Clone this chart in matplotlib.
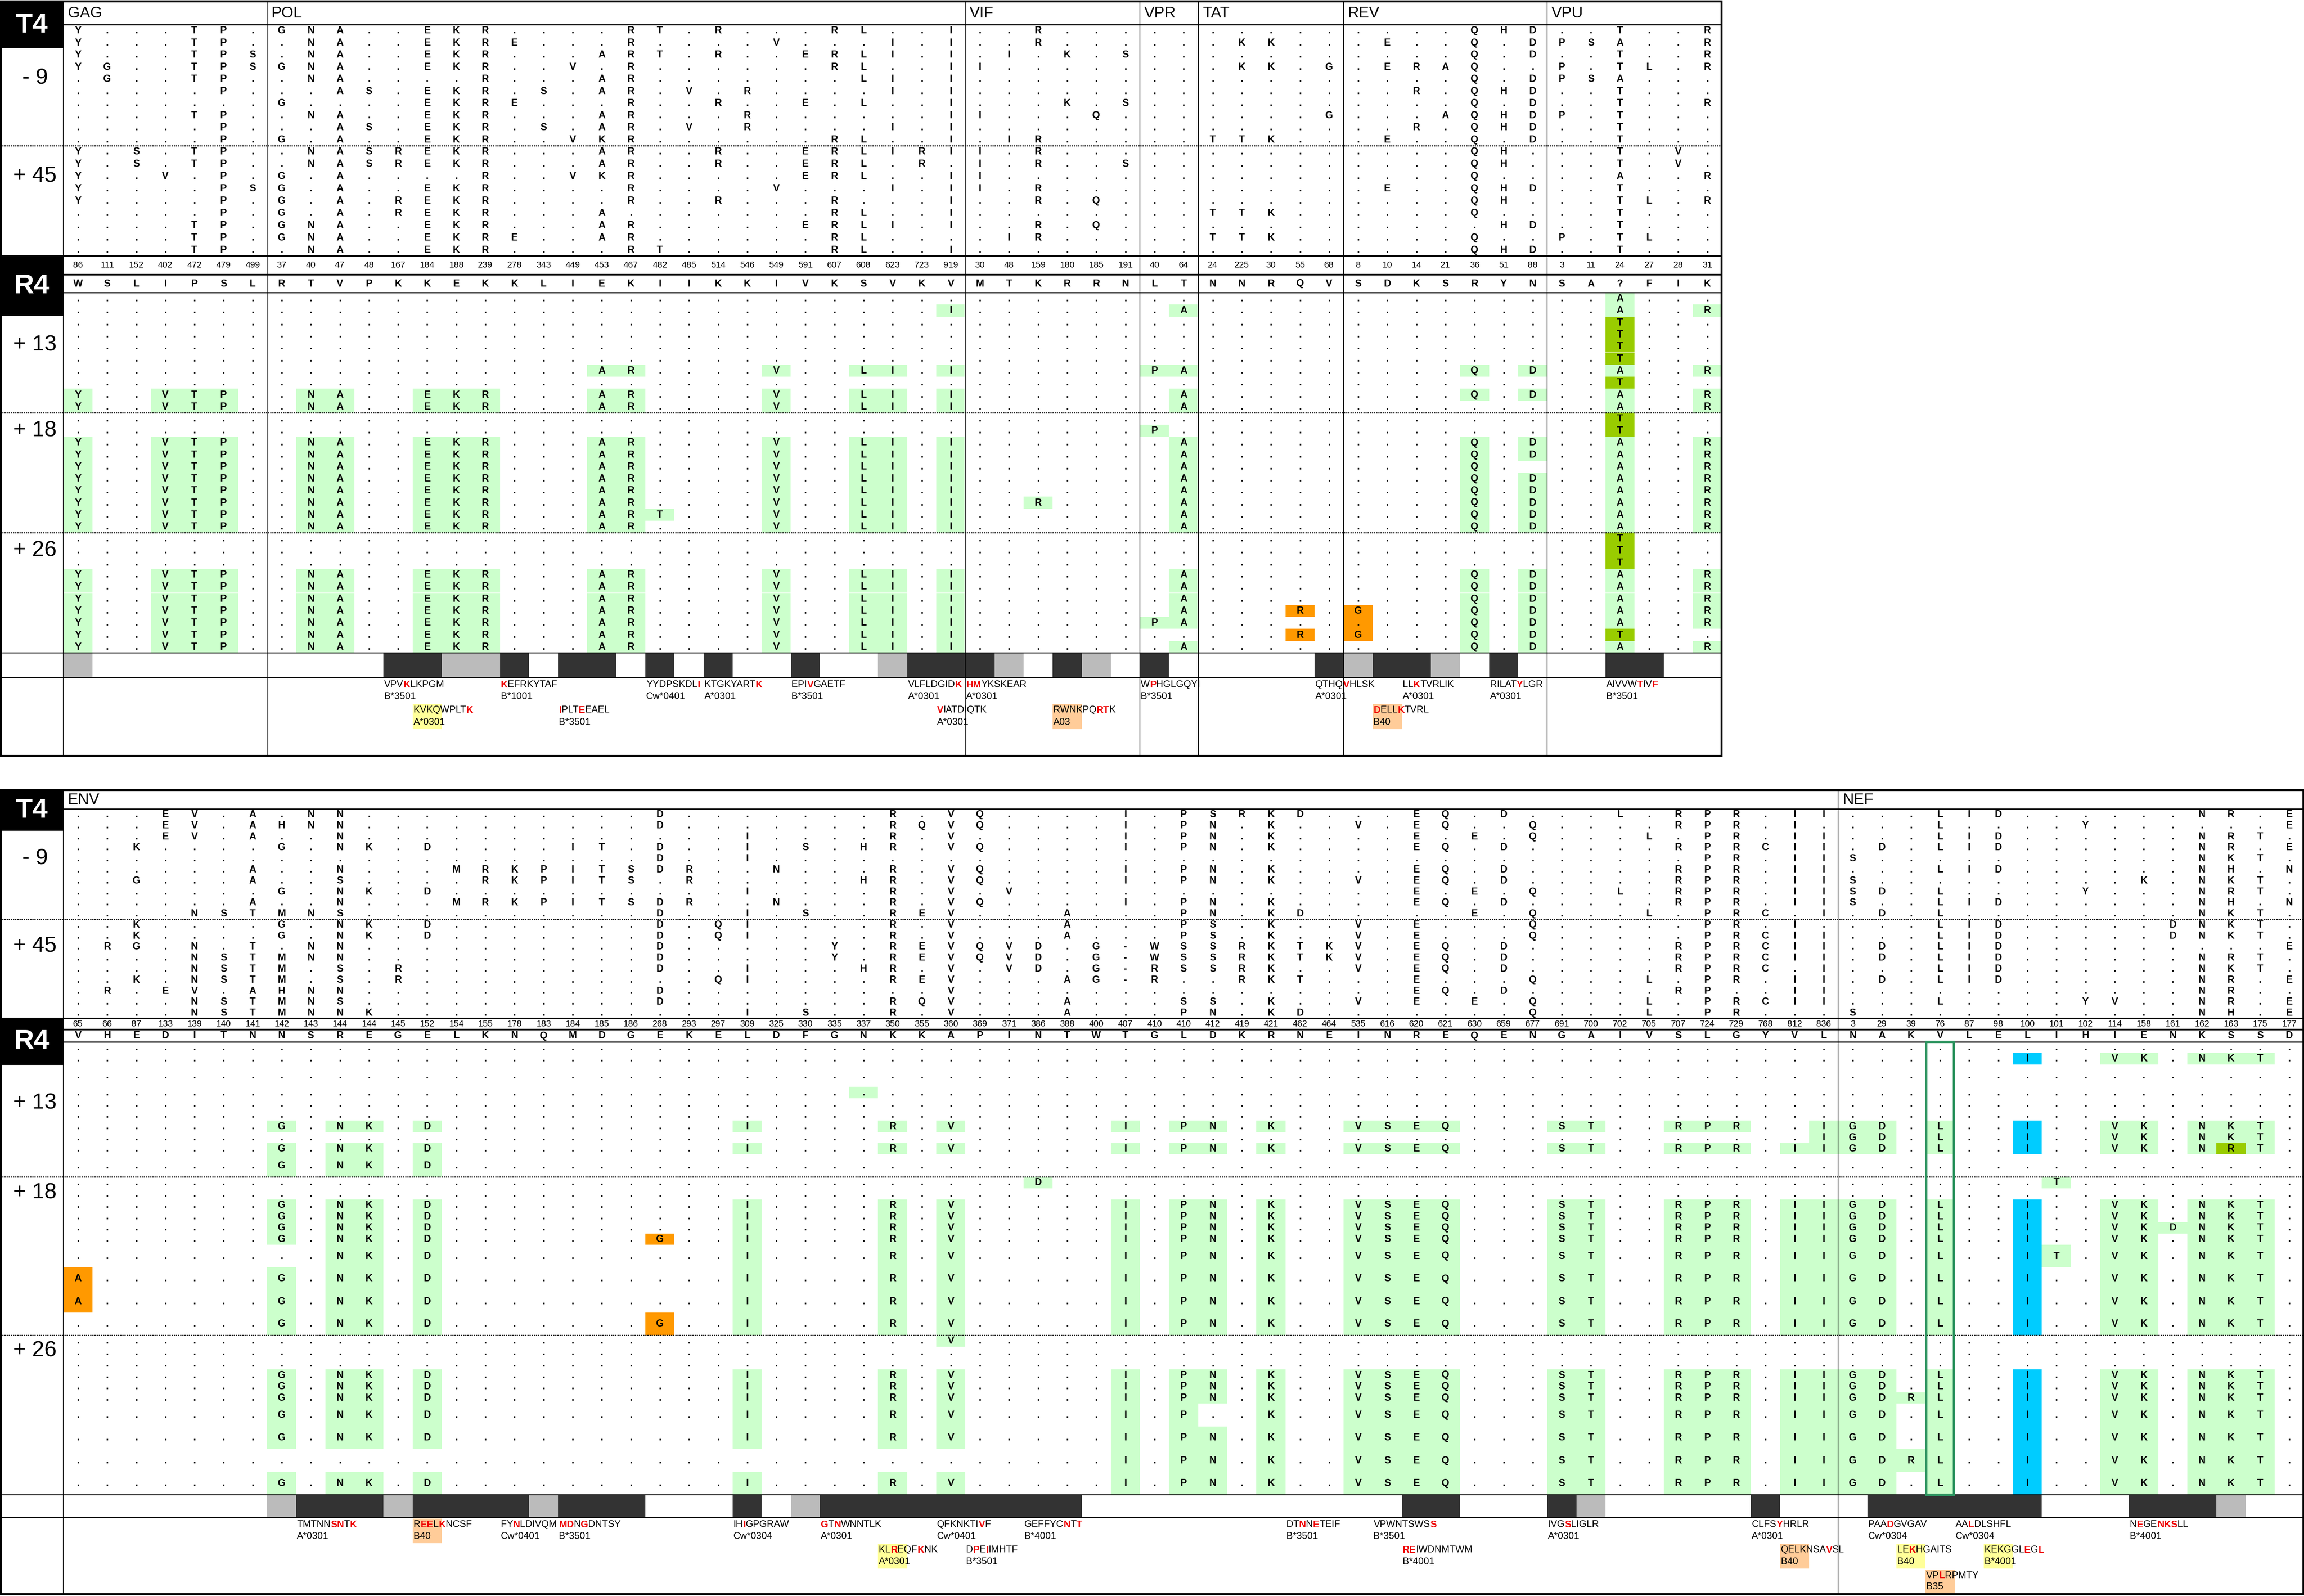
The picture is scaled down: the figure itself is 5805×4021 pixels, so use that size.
import matplotlib
matplotlib.use("Agg")
import matplotlib.pyplot as plt
from matplotlib.patches import Rectangle
from matplotlib import font_manager

installed = {f.name for f in font_manager.fontManager.ttflist}
FONT = "Liberation Sans" if "Liberation Sans" in installed else "DejaVu Sans"
plt.rcParams["font.family"] = [FONT, "DejaVu Sans"]

# colours
LIGHT = "#ccffcc"
DARK = "#99cc00"
ORANGE = "#ff9900"
BLUE = "#00ccff"
BAR_BLACK = "#333333"
BAR_GREY = "#bbbbbb"
YELLOW = "#ffff99"
PEACH = "#ffcc99"
RED = "#ee0000"

# ---------------------------------------------------------------- top panel
top_genes = ["GAG", "POL", "VIF", "VPR", "TAT", "REV", "VPU"]
top_positions = [
    "86 111 152 402 472 479 499".split(),
    "37 40 47 48 167 184 188 239 278 343 449 453 467 482 485 514 546 549 591 607 608 623 723 919".split(),
    "30 48 159 180 185 191".split(),
    "40 64".split(),
    "24 225 30 55 68".split(),
    "8 10 14 21 36 51 88".split(),
    "3 11 24 27 28 31".split(),
]
top_ref = ["WSLIPSL", "RTVPKKEKKLIEKIIKKIVKSVKV", "MTKRRN", "LT", "NNRQV", "SDKSRYN", "SA?FIK"]

top_t4_minus9 = [
    "Y...TP.|GNA..EKR....RT.R...RL..I|..R...|..|.....|....QHD|..T..R",
    "Y...TP.|.NA..EKRE...R....V...I.I|..R...|..|.KK..|.E..Q.D|PSA..R",
    "Y...TPS|.NA..EKR...ART.R..ERLI.I|.I.K.S|..|.....|....Q.D|..T..R",
    "YG..TPS|GNA..EKR..V.R......RL..I|I.....|..|.KK.G|.ERAQ..|P.TL.R",
    ".G..TP.|.NA....R...AR.......LI.I|......|..|.....|....Q.D|PSA...",
    ".....P.|..AS.EKR.S.AR.V.R....I.I|......|..|.....|..R.QHD|..T...",
    ".......|G....EKRE...R..R..E.L..I|...K.S|..|.....|....Q.D|..T..R",
    "....TP.|.NA..EKR...AR...R......I|I...Q.|..|....G|...AQHD|P.T...",
    ".....P.|..AS.EKR.S.AR.V.R....I.I|......|..|.....|..R.QHD|..T...",
    ".....P.|G.A..EKR..VKR......RL..I|.IR...|..|TTK..|.E..Q.D|..T...",
]
top_t4_plus45 = [
    "Y.S.TP.|.NASREKR...AR..R..ERLIRI|I.R...|..|.....|....QH.|..T.V.",
    "Y.S.TP.|.NASREKR...AR..R..ERL.R.|I.R..S|..|.....|....QH.|..T.V.",
    "Y..V.P.|G.A....R..VKR.....ERL..I|I.....|..|.....|....Q..|..A..R",
    "Y....PS|G.A..EKR....R....V...I.I|I.R...|..|.....|.E..QHD|..T...",
    "Y....P.|G.A.REKR....R..R...R...I|..R.Q.|..|.....|....QH.|..TL.R",
    ".....P.|G.A.REKR...A.......RL..I|......|..|TTK..|....Q..|..T...",
    "....TP.|GNA..EKR...AR.....ERLI.I|..R.Q.|..|.....|.....HD|..T...",
    "....TP.|GNA..EKRE..AR......RL...|.IR...|..|TTK..|....Q..|P.TL..",
    "....TP.|.NA..EKR....RT.....RL..I|......|..|.....|....QHD|..T...",
]
top_r4_plus13 = [
    ".......|........................|......|..|.....|.......|..A...",
    ".......|.......................I|......|.A|.....|.......|..A..R",
    ".......|........................|......|..|.....|.......|..T...",
    ".......|........................|......|..|.....|.......|..T...",
    ".......|........................|......|..|.....|.......|..T...",
    ".......|........................|......|..|.....|.......|..T...",
    ".......|...........AR....V..LI.I|......|PA|.....|....Q.D|..A..R",
    ".......|........................|......|..|.....|.......|..T...",
    "Y..VTP.|.NA..EKR...AR....V..LI.I|......|.A|.....|....Q.D|..A..R",
    "Y..VTP.|.NA..EKR...AR....V..LI.I|......|.A|.....|.......|..A..R",
]
top_r4_plus18 = [
    ".......|........................|......|..|.....|.......|..T...",
    ".......|........................|......|P.|.....|.......|..T...",
    "Y..VTP.|.NA..EKR...AR....V..LI.I|......|.A|.....|....Q.D|..A..R",
    "Y..VTP.|.NA..EKR...AR....V..LI.I|......|.A|.....|....Q.D|..A..R",
    "Y..VTP.|.NA..EKR...AR....V..LI.I|......|.A|.....|....Q. |..A..R",
    "Y..VTP.|.NA..EKR...AR....V..LI.I|......|.A|.....|....Q.D|..A..R",
    "Y..VTP.|.NA..EKR...AR....V..LI.I|......|.A|.....|....Q.D|..A..R",
    "Y..VTP.|.NA..EKR...AR....V..LI.I|..R...|.A|.....|....Q.D|..A..R",
    "Y..VTP.|.NA..EKR...ART...V..LI.I|......|.A|.....|....Q.D|..A..R",
    "Y..VTP.|.NA..EKR...AR....V..LI.I|......|.A|.....|....Q.D|..A..R",
]
top_r4_plus26 = [
    ".......|........................|......|..|.....|.......|..T...",
    ".......|........................|......|..|.....|.......|..T...",
    ".......|........................|......|..|.....|.......|..T...",
    "Y..VTP.|.NA..EKR...AR....V..LI.I|......|.A|.....|....Q.D|..A..R",
    "Y..VTP.|.NA..EKR...AR....V..LI.I|......|.A|.....|....Q.D|..A..R",
    "Y..VTP.|.NA..EKR...AR....V..LI.I|......|.A|.....|....Q.D|..A..R",
    "Y..VTP.|.NA..EKR...AR....V..LI.I|......|.A|...R.|G...Q.D|..A..R",
    "Y..VTP.|.NA..EKR...AR....V..LI.I|......|PA|.....|*...Q.D|..A..R",
    "Y..VTP.|.NA..EKR...AR....V..LI.I|......|..|...R.|G...Q.D|..T...",
    "Y..VTP.|.NA..EKR...AR....V..LI.I|......|.A|.....|....Q.D|..A..R",
]
# epitope bar: k = black, g = grey
top_bar = "g......|....kkggk.kk.k.k..k..gkk|kg.kg.|k.|....k|gkkg.k.|..kk.."
# gene, start position, text line, peptide ([..] = red), allele, allele box
top_epitopes = [
    ("POL", "167", 0, "VPV[K]LKPGM", "B*3501", None),
    ("POL", "184", 1, "KVKQWPLT[K]", "A*0301", YELLOW),
    ("POL", "278", 0, "[K]EFRKYTAF", "B*1001", None),
    ("POL", "449", 1, "[I]PLT[E]EAEL", "B*3501", None),
    ("POL", "482", 0, "YYDPSKDL[I]", "Cw*0401", None),
    ("POL", "514", 0, "KTGKYART[K]", "A*0301", None),
    ("POL", "591", 0, "EPI[V]GAETF", "B*3501", None),
    ("POL", "723", 0, "VLFLDGID[K]", "A*0301", None),
    ("POL", "919", 1, "[V]IATDIQTK", "A*0301", None),
    ("VIF", "30", 0, "[HM]YKSKEAR", "A*0301", None),
    ("VIF", "180", 1, "RWNKPQ[RT]K", "A03", PEACH),
    ("VPR", "40", 0, "W[P]HGLGQYI", "B*3501", None),
    ("TAT", "68", 0, "QTHQ[V]HLSK", "A*0301", None),
    ("REV", "14", 0, "LL[K]TVRLIK", "A*0301", None),
    ("REV", "10", 1, "[D]ELL[K]TVRL", "B40", PEACH),
    ("REV", "51", 0, "RILAT[Y]LGR", "A*0301", None),
    ("VPU", "24", 0, "AIVVW[T]IV[F]", "B*3501", None),
]

# ------------------------------------------------------------- bottom panel
bot_genes = ["ENV", "NEF"]
bot_positions = [
    ("65 66 87 133 139 140 141 142 143 144 144 145 152 154 155 178 183 184 185 186 268 293 297 309 "
     "325 330 335 337 350 355 360 369 371 386 388 400 407 410 410 412 419 421 462 464 535 616 620 621 630 659 677 "
     "691 700 702 705 707 724 729 768 812 836").split(),
    "3 29 39 76 87 98 100 101 102 114 158 161 162 163 175 177".split(),
]
bot_ref = ["VHEDITNNSREGELKNQMDGEKELDFGNKKAPINTWTGLDKRNEINREQENGAIVSLGYVL", "NAKVLELIHIENKSSD"]

bot_t4_minus9 = [
    "...EV.A.NN..........D...|....R.VQ....I.PSRKD...EQ.D.|..L.RPR.II|...LID......NR.E",
    "...EV.AHNN..........D...|....RQVQ....I.PN.K..V.EQ..Q|....RPR.I.|...L....Y......E",
    "...EV.A..N.............I|....R.V.....I.PN.K....E.E.Q|...L.PR.II|...LID......NRT.",
    "..K....G.NK.D....IT.D..I|.S.HR.VQ....I.PN.K....EQ.D.|....RPRCII|.D.LID......NR.E",
    "....................D..I|...........................|.....PR.II|S...........NKT.",
    "......A..N...MRKPITSDR..|N...R.VQ....I.PN.K....EQ.D.|....RPR.II|...LID......NH.N",
    "..G...A..S....RKPITS.R..|...HR.VQ....I.PN.K..V.EQ.D.|....RPR.II|S.........K.NKT.",
    ".......G.NK.D..........I|....R.V.V.............E.E.Q|..L.RPR.II|SD.L....Y...NRT.",
    "......A..N...MRKPITSDR..|N...R.VQ....I.PN.K....EQ.D.|....RPR.II|S..LID......NH.N",
    "....NSTMNS..........D..I|.S..REV...A...PN.KD.....E.Q|...L.PRC.I|.D.L........NKT.",
]
bot_t4_plus45 = [
    "..K....G.NK.D.......D.QI|....R.V...A...PS.K..V.E...Q|.....PR.I.|...LID.....DNKT.",
    "..K....G.NK.D.......D.QI|....R.V...A...PS.K..V.E...Q|.....PRCII|...LID.....DNKT.",
    ".RG.N.T.NN..........D...|..Y.REVQVD.G-WSSRKTKV.EQ.D.|....RPRCII|.D.LID.........E",
    "....NSTMNN..........D...|..Y.REVQVD.G-WSSRKTKV.EQ.D.|....RPRCII|.D.LID......NRT.",
    "....NSTM.S.R........D..I|...HR.V.VD.G-RSSRK..V.EQ.D.|....RPRC.I|...LID......NKT.",
    "..K.NSTM.S.R..........QI|....REV...AG-R..RKT...E...Q|...L.PR.II|.D.LID......NR.E",
    ".R.EV.AHNN..........D...|......V...............EQ.D.|....RP..II|............NR..",
    "....NSTMNS..........D...|....RQV...A...SS.K..V.E.E.Q|...L.PRCII|...L....YV..NR.E",
    "....NSTMNNK............I|.S..R.V...A...PN.KD.......Q|...L.PR...|S...........NH.E",
]
bot_r4_plus13 = [
    "........................|...........................|..........|................",
    "........................|...........................|..........|......I..VK.NKT.",
    "........................|...........................|..........|................",
    "........................|...*.......................|..........|................",
    "........................|...........................|..........|................",
    "........................|...........................|..........|................",
    ".......G.NK.D..........I|....R.V.....I.PN.K..VSEQ...|ST..RPR..I|GD.L..I..VK.NKT.",
    "........................|...........................|.........I|GD.L..I..VK.NKT.",
    ".......G.NK.D..........I|....R.V.....I.PN.K..VSEQ...|ST..RPR.II|GD.L..I..VK.NRT.",
    ".......G.NK.D...........|...........................|..........|................",
]
bot_r4_plus18 = [
    "........................|.........D.................|..........|.......T........",
    "........................|...........................|..........|................",
    ".......G.NK.D..........I|....R.V.....I.PN.K..VSEQ...|ST..RPR.II|GD.L..I..VK.NKT.",
    ".......G.NK.D..........I|....R.V.....I.PN.K..VSEQ...|ST..RPR.II|GD.L..I..VK.NKT.",
    ".......G.NK.D..........I|....R.V.....I.PN.K..VSEQ...|ST..RPR.II|GD.L..I..VKDNKT.",
    ".......G.NK.D.......G..I|....R.V.....I.PN.K..VSEQ...|ST..RPR.II|GD.L..I..VK.NKT.",
    ".........NK.D..........I|....R.V.....I.PN.K..VSEQ...|ST..RPR.II|GD.L..IT.VK.NKT.",
    "A......G.NK.D..........I|....R.V.....I.PN.K..VSEQ...|ST..RPR.II|GD.L..I..VK.NKT.",
    "A......G.NK.D..........I|....R.V.....I.PN.K..VSEQ...|ST..RPR.II|GD.L..I..VK.NKT.",
    ".......G.NK.D.......G..I|....R.V.....I.PN.K..VSEQ...|ST..RPR.II|GD.L..I..VK.NKT.",
]
bot_r4_plus26 = [
    "........................|......V....................|..........|................",
    "........................|...........................|..........|................",
    "........................|...........................|..........|................",
    ".......G.NK.D..........I|....R.V.....I.PN.K..VSEQ...|ST..RPR.II|GD.L..I..VK.NKT.",
    ".......G.NK.D..........I|....R.V.....I.PN.K..VSEQ...|ST..RPR.II|GD.L..I..VK.NKT.",
    ".......G.NK.D..........I|....R.V.....I.PN.K..VSEQ...|ST..RPR.II|GDRL..I..VK.NKT.",
    ".......G.NK.D..........I|....R.V.....I.P..K..VSEQ...|ST..RPR.II|GD.L..I..VK.NKT.",
    ".......G.NK.D..........I|....R.V.....I.PN.K..VSEQ...|ST..RPR.II|GD.L..I..VK.NKT.",
    "........................|............I.PN.K..VSEQ...|ST..RPR.II|GDRL..I..VK.NKT.",
    ".......G.NK.D..........I|....R.V.....I.PN.K..VSEQ...|ST..RPR.II|GD.L..I..VK.NKT.",
]
# relative row heights of the R4 groups in the bottom panel
bot_r4_units = [[1, 1, 2, 1, 1, 1, 1, 1, 1, 2],
                [1, 1, 1, 1, 1, 1, 2, 2, 2, 2],
                [1, 1, 1, 1, 1, 1, 2, 2, 2, 2]]
bot_bar = ".......gkkkgkkkkgkkk...k.gkkkkkkkkk...........kk...kg.....k..|.kkkkkk...kkkg.."
bot_epitopes = [
    ("ENV", "143", 0, "TMTNN[SN]T[K]", "A*0301", None),
    ("ENV", "152", 0, "R[EE]L[K]NCSF", "B40", PEACH),
    ("ENV", "178", 0, "FY[N]LDIVQM", "Cw*0401", None),
    ("ENV", "184", 0, "[MD]N[G]DNTSY", "B*3501", None),
    ("ENV", "309", 0, "IH[I]GPGRAW", "Cw*0304", None),
    ("ENV", "335", 0, "[G]T[N]WNNTLK", "A*0301", None),
    ("ENV", "350", 1, "KL[R]EQF[K]NK", "A*0301", YELLOW),
    ("ENV", "360", 0, "QFKNKTI[V]F", "Cw*0401", None),
    ("ENV", "369", 1, "D[P]E[I]IMHTF", "B*3501", None),
    ("ENV", "386", 0, "GEFFYC[N]T[T]", "B*4001", None),
    ("ENV", "462", 0, "DT[N]N[E]TEIF", "B*3501", None),
    ("ENV", "616", 0, "VPWNTSWS[S]", "B*3501", None),
    ("ENV", "620", 1, "[RE]IWDNMTWM", "B*4001", None),
    ("ENV", "691", 0, "IVG[S]LIGLR", "A*0301", None),
    ("ENV", "768", 0, "CLFS[Y]HRLR", "A*0301", None),
    ("ENV", "812", 1, "QELKNSA[V]SL", "B40", PEACH),
    ("NEF", "29", 0, "PAA[D]GVGAV", "Cw*0304", None),
    ("NEF", "87", 0, "AA[L]DLSHFL", "Cw*0304", None),
    ("NEF", "39", 1, "LE[K]HGAITS", "B40", YELLOW),
    ("NEF", "98", 1, "KEKGGL[E]G[L]", "B*4001", YELLOW),
    ("NEF", "76", 2, "VP[L]RPMTY", "B35", PEACH),
    ("NEF", "158", 0, "N[E]GE[NKS]LL", "B*4001", None),
]

# highlight colour rules for R4 cells (default light green)
column_colour = {("TAT", "55"): ORANGE, ("REV", "8"): ORANGE, ("ENV", "65"): ORANGE,
                 ("ENV", "268"): ORANGE, ("NEF", "100"): BLUE}
dark_letters = {("VPU", "24"): "T", ("NEF", "163"): "R"}

# ------------------------------------------------------------------ layout (pixels)
W = 73.3
X0 = 160

top_layout = dict(
    top=3, head=62, bottom=1904, right=X0 + 57 * W, t4_box=(3, 121), r4_box=(645, 796),
    t4_groups=[(62, 367), (367, 645)], num=(645, 692), ref=(692, 737),
    r4_groups=[(737, 1040), (1040, 1342), (1342, 1645)], bar=(1645, 1707),
    lines=[(1725, 1755), (1789, 1820)], t4_y=64, r4_y=721,
    t4_label_y=[198, 443], r4_label_y=[870, 1085, 1388])
bot_layout = dict(
    top=1990, head=2038, bottom=4016, right=X0 + 77 * W, t4_box=(1990, 2093), r4_box=(2566, 2683),
    t4_groups=[(2038, 2316), (2316, 2566)], num=(2566, 2594), ref=(2594, 2625),
    r4_groups=[(2625, 2965), (2965, 3364), (3364, 3766)], bar=(3766, 3823),
    lines=[(3841, 3871), (3905, 3935), (3970, 3998)], t4_y=2042, r4_y=2624,
    t4_label_y=[2164, 2384], r4_label_y=[2779, 3005, 3404])

fig = plt.figure(figsize=(58.05, 40.21), dpi=100)
ax = fig.add_axes([0, 0, 1, 1])
ax.set_xlim(0, 5805)
ax.set_ylim(4021, 0)
ax.axis("off")


def parse_markup(s):
    segs, buf, red = [], "", False
    for ch in s:
        if ch in "[]":
            if buf:
                segs.append((buf, red))
            buf, red = "", ch == "["
        else:
            buf += ch
    if buf:
        segs.append((buf, red))
    return segs


def rich_text(x, y, markup, size):
    prev = None
    for txt, red in parse_markup(markup):
        props = dict(fontsize=size, color=RED if red else "black",
                     fontweight="bold" if red else "normal", ha="left", va="center", zorder=6)
        if prev is None:
            prev = ax.text(x, y, txt, **props)
        else:
            prev = ax.annotate(txt, xy=(1, 0.5), xycoords=prev, **props)


def hline(y, x1, x2, px, style="-"):
    ax.plot([x1, x2], [y, y], color="black", lw=px * 0.72, ls=style, solid_capstyle="butt", zorder=4)


def vline(x, y1, y2, px):
    ax.plot([x, x], [y1, y2], color="black", lw=px * 0.72, solid_capstyle="butt", zorder=4)


def draw_panel(genes, positions, refs, t4_sets, r4_sets, r4_units, bar, epitopes, L):
    col_gene, col_pos, starts = [], [], []
    for g, plist in zip(genes, positions):
        starts.append(len(col_gene))
        col_gene += [g] * len(plist)
        col_pos += plist
    ncols = len(col_gene)
    right = L["right"]

    def cx(i):
        return X0 + W * (i + 0.5)

    # data rows
    def rows(group_spans, sets, units_list, r4):
        for (g0, g1), rowset, units in zip(group_spans, sets, units_list):
            total = sum(units)
            y = g0
            for row, u in zip(rowset, units):
                h = (g1 - g0) * u / total
                s = row.replace("|", "")
                assert len(s) == ncols, (row, len(s), ncols)
                for i, ch in enumerate(s):
                    if ch == " ":
                        continue
                    if r4 and ch != ".":
                        key = (col_gene[i], col_pos[i])
                        colour = column_colour.get(key, LIGHT)
                        if dark_letters.get(key) == ch:
                            colour = DARK
                        ax.add_patch(Rectangle((X0 + i * W, y), W, h, facecolor=colour,
                                               lw=0, antialiased=False, zorder=1))
                    ax.text(cx(i), y + h / 2, "." if ch in ".*" else ch, fontsize=18,
                            fontweight="bold", ha="center", va="center", zorder=5)
                y += h

    rows(L["t4_groups"], t4_sets, [[1] * len(r) for r in t4_sets], False)
    rows(L["r4_groups"], r4_sets, r4_units, True)

    # position numbers and reference residues
    ref = "".join(refs)
    for i in range(ncols):
        ax.text(cx(i), sum(L["num"]) / 2, col_pos[i], fontsize=16, ha="center", va="center", zorder=5)
        ax.text(cx(i), sum(L["ref"]) / 2, ref[i], fontsize=18, fontweight="bold",
                ha="center", va="center", zorder=5)

    # gene labels
    for g, s0 in zip(genes, starts):
        ax.text(X0 + s0 * W + 11, (L["top"] + L["head"]) / 2 + 2, g, fontsize=28,
                ha="left", va="center", zorder=5)

    # epitope bar
    b0, b1 = L["bar"]
    for i, code in enumerate(bar.replace("|", "")):
        if code in "kg":
            ax.add_patch(Rectangle((X0 + i * W, b0), W, b1 - b0, lw=0, antialiased=False,
                                   facecolor=BAR_BLACK if code == "k" else BAR_GREY, zorder=1))

    # epitope texts
    for gene, pos, line, pep, allele, box in epitopes:
        gi = genes.index(gene)
        i = starts[gi] + positions[gi].index(pos)
        x = X0 + i * W
        yp, ya = L["lines"][line]
        if box:
            ax.add_patch(Rectangle((x, yp - 15), W, ya - yp + 32, facecolor=box, lw=0, zorder=2))
        rich_text(x + 2, yp, pep, 17.5)
        ax.text(x + 2, ya, allele, fontsize=17.5, ha="left", va="center", zorder=6)

    # T4 / R4 boxes and group labels
    for (y0, y1), lab, ly in [(L["t4_box"], "T4", L["t4_y"]), (L["r4_box"], "R4", L["r4_y"])]:
        ax.add_patch(Rectangle((0, y0), X0, y1 - y0, facecolor="black", lw=0, zorder=3))
        ax.text(X0 / 2, ly, lab, fontsize=50, fontweight="bold", color="white",
                ha="center", va="center", zorder=6)
    for lab, ly in zip(["- 9", "+ 45"], L["t4_label_y"]):
        ax.text(88, ly, lab, fontsize=40, ha="center", va="center", zorder=5)
    for lab, ly in zip(["+ 13", "+ 18", "+ 26"], L["r4_label_y"]):
        ax.text(88, ly, lab, fontsize=40, ha="center", va="center", zorder=5)

    # rules
    dotted = (0, (1, 0.8))
    hline(L["head"], X0, right, 3)
    hline(L["num"][0], 0, right, 4)
    hline(L["num"][1], X0, right, 4)
    hline(L["ref"][1], X0, right, 3)
    hline(L["t4_groups"][0][1], 0, right, 3, dotted)
    for (g0, g1) in L["r4_groups"][:-1]:
        hline(g1, 0, right, 3, dotted)
    hline(b0, 0, right, 2.5)
    hline(b1, 0, right, 2.5)
    vline(X0, L["top"], L["bottom"], 2.5)
    for s0 in starts[1:]:
        vline(X0 + s0 * W, L["top"], L["bottom"], 2)
    ax.add_patch(Rectangle((1.5, L["top"]), right - 3, L["bottom"] - L["top"], fill=False,
                           edgecolor="black", lw=5 * 0.72, zorder=7))
    return starts


draw_panel(top_genes, top_positions, top_ref,
           [top_t4_minus9, top_t4_plus45],
           [top_r4_plus13, top_r4_plus18, top_r4_plus26],
           [[1] * 10, [1] * 10, [1] * 10], top_bar, top_epitopes, top_layout)

bstarts = draw_panel(bot_genes, bot_positions, bot_ref,
                     [bot_t4_minus9, bot_t4_plus45],
                     [bot_r4_plus13, bot_r4_plus18, bot_r4_plus26],
                     bot_r4_units, bot_bar, bot_epitopes, bot_layout)

# green outline around NEF 76 in the R4 block
nef76 = bstarts[1] + bot_positions[1].index("76")
ax.add_patch(Rectangle((X0 + nef76 * W + 2, bot_layout["ref"][1]), W - 4,
                       bot_layout["r4_groups"][-1][1] - bot_layout["ref"][1],
                       fill=False, edgecolor="#2e9460", lw=6 * 0.72, zorder=6))

fig.savefig("out.png", dpi=100)
